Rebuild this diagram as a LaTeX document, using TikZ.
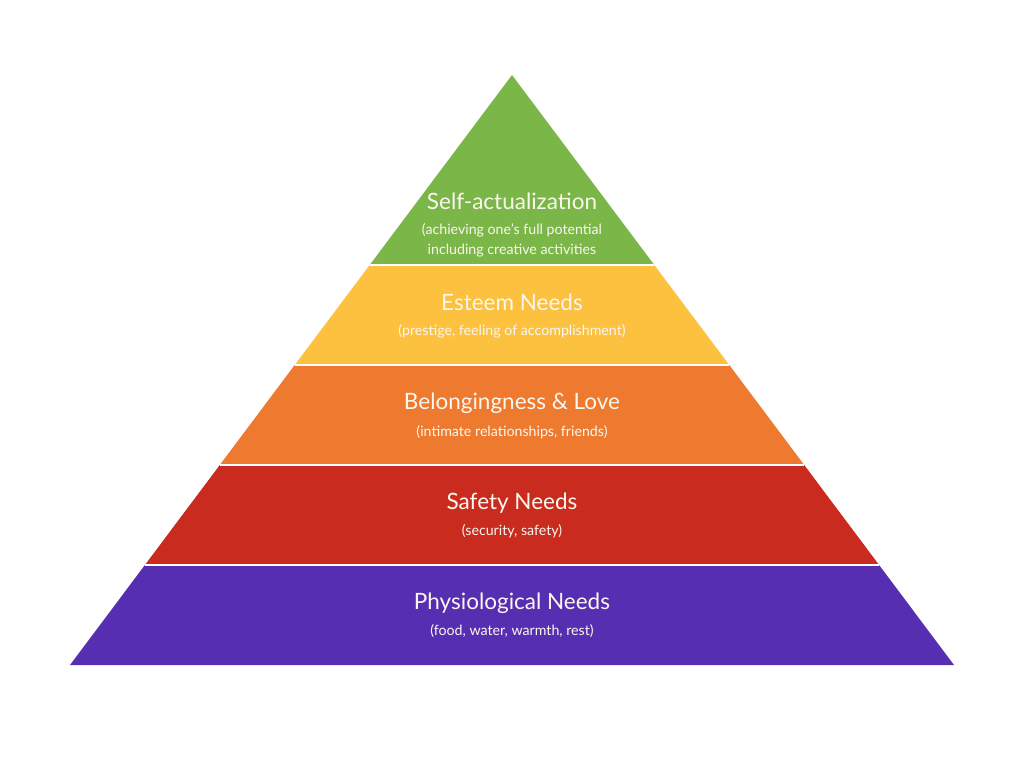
\documentclass[tikz,border=0pt]{standalone}
\usepackage{fontspec}
\setmainfont{Lato}
\definecolor{cgreen}{HTML}{7AB648}
\definecolor{cyellow}{HTML}{FCC23F}
\definecolor{corange}{HTML}{EE7A2F}
\definecolor{cred}{HTML}{C92B1F}
\definecolor{cpurple}{HTML}{562EB1}
\definecolor{ctext}{HTML}{FBF6EE}
\begin{document}
\begin{tikzpicture}[x=1pt,y=-1pt,
  title/.style={text=ctext,font=\fontsize{22.5}{26}\selectfont,inner sep=0pt,anchor=center},
  sub/.style={text=ctext,font=\fontsize{14.2}{20}\selectfont,inner sep=0pt,anchor=center,align=center},
  sep/.style={draw=white,line width=1.2pt}]
\useasboundingbox (0,0) rectangle (1024,768);
\fill[cgreen] (512,75) -- (654.3,265) -- (369.7,265) -- cycle;
\fill[cyellow] (369.7,265) -- (654.3,265) -- (729.3,365) -- (294.7,365) -- cycle;
\fill[corange] (294.7,365) -- (729.3,365) -- (804.2,465) -- (219.8,465) -- cycle;
\fill[cred] (219.8,465) -- (804.2,465) -- (879.1,565) -- (144.9,565) -- cycle;
\fill[cpurple] (144.9,565) -- (879.1,565) -- (954,665) -- (70,665) -- cycle;
\draw[sep] (369.7,265) -- (654.3,265);
\draw[sep] (294.7,365) -- (729.3,365);
\draw[sep] (219.8,465) -- (804.2,465);
\draw[sep] (144.9,565) -- (879.1,565);
\node[title] (t1) at (512,201) {Self-actualization};
\node[sub] (s1) at (512,240) {(achieving one’s full potential\\including creative activities};
\node[title] (t2) at (512,302) {Esteem Needs};
\node[sub] (s2) at (512,331) {(prestige, feeling of accomplishment)};
\node[title] (t3) at (512,403) {Belongingness \& Love};
\node[sub] (s3) at (512,432) {(intimate relationships, friends)};
\node[title] (t4) at (512,503) {Safety Needs};
\node[sub] (s4) at (512,531) {(security, safety)};
\node[title] (t5) at (512,603) {Physiological Needs};
\node[sub] (s5) at (512,631) {(food, water, warmth, rest)};
\end{tikzpicture}
\end{document}
